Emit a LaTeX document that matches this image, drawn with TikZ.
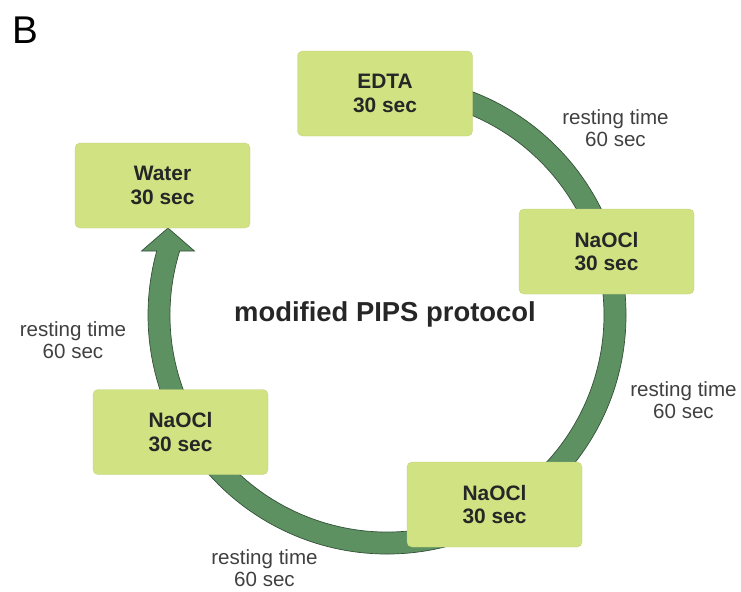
\documentclass[tikz,border=0pt]{standalone}
\usepackage{fontspec}
\setmainfont{Liberation Sans}
\usepackage{tikz}
\usetikzlibrary{calc}
\definecolor{stagefill}{RGB}{209,226,131}
\definecolor{bandfill}{RGB}{94,145,98}
\definecolor{bandline}{RGB}{52,82,56}
\definecolor{inkdark}{RGB}{38,38,38}
\definecolor{inkgrey}{RGB}{64,64,64}

\begin{document}
\begin{tikzpicture}[
		stage/.style={rectangle, rounded corners=0.1cm, fill=stagefill, draw=stagefill!92!black, line width=0.2pt, minimum width=3.5cm, minimum height=1.7cm, align=center, text=inkdark, font=\fontsize{11.9}{13.6}\selectfont\bfseries},
		rest/.style={align=center, text=inkgrey, font=\fontsize{11.7}{12.5}\selectfont},
		band/.style={fill=bandfill, draw=bandline, line width=0.4pt}
	]
			\useasboundingbox (0,0) rectangle (14.82,-11.82);
			\coordinate (hub) at (7.74,-6.30);
			\filldraw [band] ($(hub)+(90:4.78)$) arc[start angle=90, end angle=-195.53, radius=4.78] -- (2.83,-5.02) -- (3.36,-4.56) -- (3.89,-5.02) -- ($(hub)+(-197.15:4.34)$) arc[start angle=-197.15, end angle=90, radius=4.34] -- cycle;
			\node [stage] (edta) at (7.70,-1.87) {EDTA\\30 sec};
			\node [stage] (naoclA) at (12.13,-5.03) {NaOCl\\30 sec};
			\node [stage] (naoclB) at (9.89,-10.09) {NaOCl\\30 sec};
			\node [stage] (naoclC) at (3.61,-8.64) {NaOCl\\30 sec};
			\node [stage] (water) at (3.25,-3.71) {Water\\30 sec};
			\node [rest] (restA) at (12.31,-2.57) {resting time\\60 sec};
			\node [rest] (restB) at (13.67,-8.01) {resting time\\60 sec};
			\node [rest] (restC) at (5.29,-11.37) {resting time\\60 sec};
			\node [rest] (restD) at (1.46,-6.81) {resting time\\60 sec};
			\node [text=inkdark, font=\fontsize{15.6}{18}\selectfont\bfseries] (title) at (7.70,-6.28) {modified PIPS protocol};
			\node [anchor=base west, inner sep=0pt, font=\fontsize{22}{26}\selectfont] (panel) at (0.245,-0.86) {B};
		\end{tikzpicture}
\end{document}
